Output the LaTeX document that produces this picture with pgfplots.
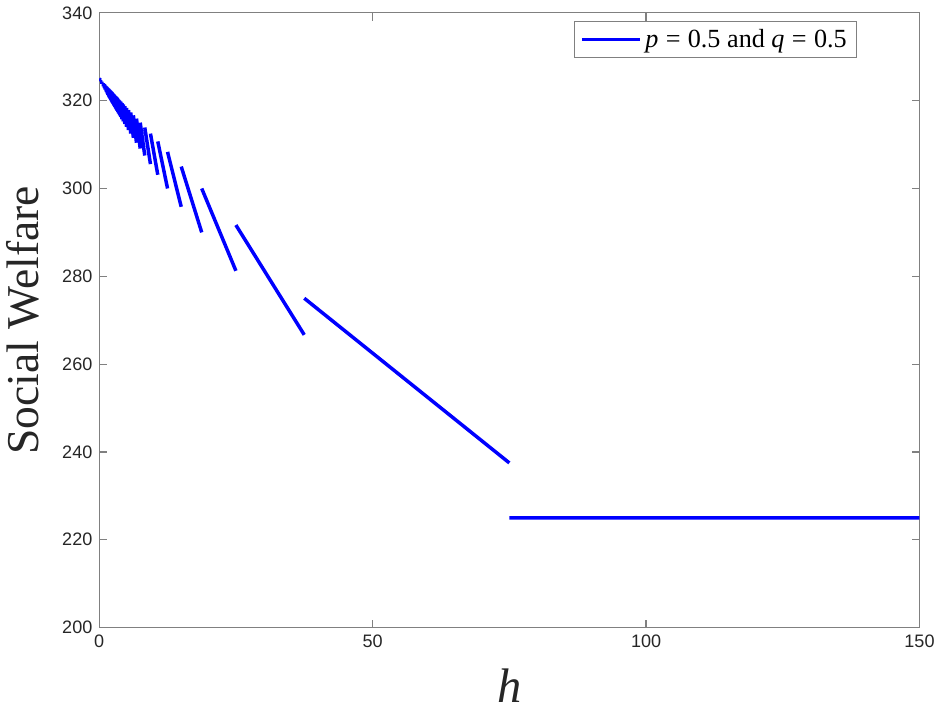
\documentclass[border=0pt]{standalone}
\usepackage{pgfplots}
\pgfplotsset{compat=1.18}
\usepackage{fontspec}
\setmainfont{Liberation Serif}
\setsansfont{Liberation Sans}
\definecolor{axgray}{RGB}{128,128,128}
\definecolor{txt}{RGB}{38,38,38}
\newcommand{\eq}{\hspace{0.28em}=\hspace{0.28em}}
\begin{document}
\begin{tikzpicture}
\begin{axis}[
    scale only axis,
    width=423pt, height=317pt,
    xmin=0, xmax=150, ymin=200, ymax=340,
    xtick={0,50,100,150}, ytick={200,220,...,340},
    tick align=inside, major tick length=4pt,
    axis line style={axgray, line width=0.6pt},
    tick style={axgray, line width=0.6pt},
    ticklabel style={font=\sffamily\fontsize{9.3}{11}\selectfont, text=txt},
    /pgf/number format/assume math mode=true,
    xlabel={\textit{h}}, ylabel={Social Welfare},
    xlabel style={font=\fontsize{25}{28}\selectfont, text=txt, yshift=-4.5pt,
        text depth=3pt},
    ylabel style={font=\fontsize{23.5}{26}\selectfont, text=txt, yshift=5pt},
    unbounded coords=jump,
    legend style={at={(0.9236,0.987)}, anchor=north east, draw=axgray,
        font=\fontsize{13.5}{15}\selectfont, inner xsep=3pt, inner ysep=2pt},
    legend cell align=left,
    legend image code/.code={\draw[#1, line width=1.8pt] (0cm,0cm) -- (1.05cm,0cm);},
]
\addplot[blue, line width=1.8pt] coordinates {
(75,225) (150,225) (nan,nan)
(37.5,275) (75,237.5) (nan,nan)
(25,291.667) (37.5,266.667) (nan,nan)
(18.75,300) (25,281.25) (nan,nan)
(15,305) (18.75,290) (nan,nan)
(12.5,308.333) (15,295.833) (nan,nan)
(10.714,310.714) (12.5,300) (nan,nan)
(9.375,312.5) (10.714,303.125) (nan,nan)
(8.333,313.889) (9.375,305.556) (nan,nan)
(7.5,315) (8.333,307.5) (nan,nan)
(6.818,315.909) (7.5,309.091) (nan,nan)
(6.25,316.667) (6.818,310.417) (nan,nan)
(5.769,317.308) (6.25,311.538) (nan,nan)
(5.357,317.857) (5.769,312.5) (nan,nan)
(5,318.333) (5.357,313.333) (nan,nan)
(4.6875,318.75) (5,314.0625) (nan,nan)
(4.412,319.118) (4.6875,314.706) (nan,nan)
(4.167,319.444) (4.412,315.278) (nan,nan)
(3.947,319.737) (4.167,315.789) (nan,nan)
(3.75,320) (3.947,316.25) (nan,nan)
(3.571,320.238) (3.75,316.667) (nan,nan)
(3.409,320.455) (3.571,317.045) (nan,nan)
(3.261,320.652) (3.409,317.391) (nan,nan)
(3.125,320.833) (3.261,317.708) (nan,nan)
(3,321) (3.125,318) (nan,nan)
(2.885,321.154) (3,318.269) (nan,nan)
(2.778,321.296) (2.885,318.519) (nan,nan)
(2.679,321.429) (2.778,318.75) (nan,nan)
(2.586,321.552) (2.679,318.966) (nan,nan)
(2.5,321.667) (2.586,319.167) (nan,nan)
(2.419,321.774) (2.5,319.355) (nan,nan)
(2.344,321.875) (2.419,319.531) (nan,nan)
(2.273,321.970) (2.344,319.697) (nan,nan)
(2.206,322.059) (2.273,319.853) (nan,nan)
(2.143,322.143) (2.206,320) (nan,nan)
(2.083,322.222) (2.143,320.139) (nan,nan)
(2.027,322.297) (2.083,320.270) (nan,nan)
(1.974,322.368) (2.027,320.395) (nan,nan)
(1.923,322.436) (1.974,320.513) (nan,nan)
(1.875,322.5) (1.923,320.625) (nan,nan)
(1.829,322.561) (1.875,320.732) (nan,nan)
(1.744,322.674) (1.786,320.930) (nan,nan)
(1.667,322.778) (1.705,321.111) (nan,nan)
(1.5625,322.917) (1.596,321.354) (nan,nan)
(1.471,323.039) (1.5,321.569) (nan,nan)
(1.339,323.214) (1.364,321.875) (nan,nan)
(1.230,323.361) (1.25,322.131) (nan,nan)
(1.056,323.592) (1.071,322.535) (nan,nan)
(0.926,323.765) (0.9375,322.840) (nan,nan)
(0.743,324.010) (0.75,323.267) (nan,nan)
(0.497,324.338) (0.5,323.841) (nan,nan)
(0.249,324.668) (0.25,324.419) (nan,nan)
(0,325) (0.249,324.668)
};
\addlegendentry{\textit{p}\eq 0.5 and \textit{q}\eq 0.5}
\end{axis}
\end{tikzpicture}
\end{document}
